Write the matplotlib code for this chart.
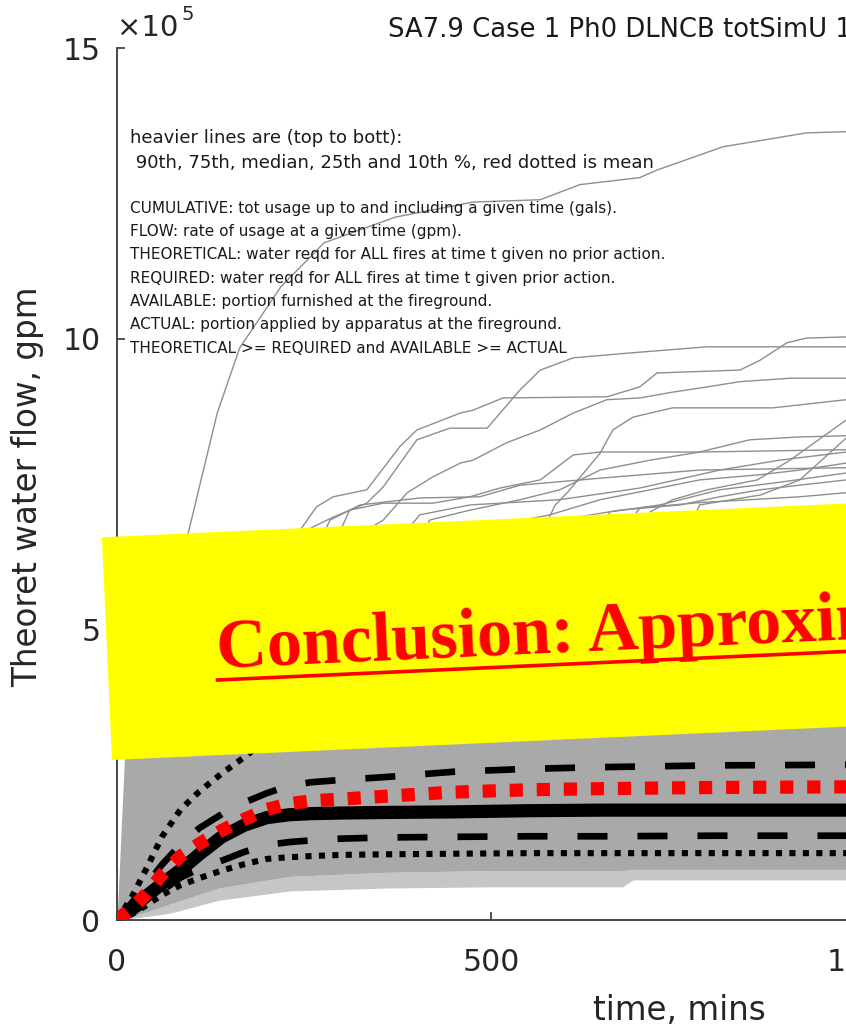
import matplotlib

matplotlib.use("Agg")
import matplotlib.pyplot as plt
from matplotlib.lines import Line2D
from matplotlib.patches import Rectangle

# flow values are in units of 1e5 gpm, time in minutes
pct_time = [0, 20, 40, 60, 85, 110, 140, 170, 200, 230, 260, 300, 360, 450, 550, 650, 800, 975]
p90 = [0, 0.40, 0.90, 1.43, 1.90, 2.21, 2.52, 2.80, 3.10, 3.35, 3.55, 3.72, 3.84, 3.90, 3.94, 3.97, 4.00, 4.00]
p75 = [0, 0.30, 0.62, 0.95, 1.30, 1.58, 1.82, 2.02, 2.18, 2.31, 2.37, 2.41, 2.46, 2.55, 2.60, 2.63, 2.66, 2.67]
mean = [0, 0.20, 0.46, 0.78, 1.10, 1.31, 1.54, 1.73, 1.90, 2.00, 2.05, 2.08, 2.13, 2.20, 2.24, 2.26, 2.28, 2.29]
median = [0, 0.20, 0.42, 0.62, 0.86, 1.13, 1.43, 1.63, 1.76, 1.81, 1.83, 1.84, 1.85, 1.86, 1.88, 1.89, 1.89, 1.89]
p25 = [0, 0.12, 0.30, 0.50, 0.73, 0.88, 1.02, 1.17, 1.29, 1.34, 1.37, 1.40, 1.42, 1.43, 1.44, 1.44, 1.45, 1.45]
p10 = [0, 0.10, 0.26, 0.43, 0.60, 0.72, 0.85, 0.96, 1.05, 1.08, 1.10, 1.12, 1.13, 1.14, 1.15, 1.15, 1.15, 1.15]

# envelope of the dense bundle of simulation runs
band_time = [0, 10, 20, 40, 72, 136, 231, 360, 500, 676, 690, 975]
band_low = [0, 0.0, 0.03, 0.06, 0.12, 0.34, 0.50, 0.55, 0.57, 0.57, 0.69, 0.69]
band_mid = [0, 0.02, 0.06, 0.14, 0.28, 0.55, 0.75, 0.82, 0.85, 0.85, 0.87, 0.87]
band_high = [0, 2.8, 4.5, 5.2, 5.3, 5.4, 5.5, 5.5, 5.5, 5.5, 5.5, 5.5]

# individual runs that stick out above the bundle
run_a_t = [0, 44, 94, 134, 164, 219, 277, 372, 476, 566, 619, 699, 722, 810, 922, 975]
run_a_v = [0, 2.58, 6.59, 8.72, 9.84, 10.89, 11.65, 12.09, 12.35, 12.39, 12.65, 12.77, 12.90, 13.30, 13.54, 13.56]
run_b_t = [164, 245, 267, 289, 334, 378, 401, 459, 476, 516, 655, 699, 722, 833, 860, 896, 922, 975]
run_b_v = [5.16, 6.71, 7.11, 7.28, 7.40, 8.14, 8.43, 8.72, 8.77, 8.98, 9.00, 9.17, 9.41, 9.46, 9.63, 9.93, 10.01, 10.03]
run_c_t = [178, 254, 289, 334, 356, 401, 445, 495, 539, 566, 610, 682, 789, 975]
run_c_v = [5.16, 6.71, 6.93, 7.17, 7.45, 8.26, 8.46, 8.46, 9.12, 9.46, 9.67, 9.75, 9.86, 9.86]
run_d_t = [271, 334, 356, 388, 422, 459, 476, 521, 566, 610, 655, 699, 743, 789, 833, 900, 975]
run_d_v = [5.16, 6.71, 6.88, 7.35, 7.62, 7.86, 7.91, 8.21, 8.43, 8.72, 8.95, 8.98, 9.08, 9.17, 9.26, 9.32, 9.32]
run_e_t = [245, 311, 356, 422, 472, 512, 566, 610, 646, 779, 975]
run_e_v = [5.16, 7.05, 7.17, 7.17, 7.28, 7.43, 7.57, 8.00, 8.05, 8.05, 8.09]
run_f_t = [352, 418, 472, 539, 592, 646, 713, 779, 846, 913, 975]
run_f_v = [5.16, 6.88, 7.05, 7.23, 7.40, 7.74, 7.91, 8.05, 8.26, 8.31, 8.33]
run_g_t = [405, 472, 512, 579, 646, 713, 779, 860, 913, 975]
run_g_v = [5.16, 6.54, 6.80, 6.97, 7.23, 7.40, 7.57, 7.66, 7.74, 7.86]
run_h_t = [485, 566, 592, 672, 753, 806, 860, 913, 975]
run_h_v = [5.16, 6.71, 6.88, 7.05, 7.14, 7.28, 7.40, 7.48, 7.57]
run_i_t = [592, 699, 779, 846, 913, 975]
run_i_v = [5.16, 7.09, 7.18, 7.23, 7.28, 7.35]
run_j_t = [512, 586, 602, 646, 663, 690, 743, 877, 975]
run_j_v = [5.16, 7.14, 7.35, 8.03, 8.43, 8.65, 8.81, 8.81, 8.95]
run_k_t = [646, 713, 743, 789, 856, 900, 975]
run_k_v = [5.16, 7.02, 7.23, 7.40, 7.57, 7.91, 8.60]
run_l_t = [713, 779, 860, 913, 975]
run_l_v = [5.16, 7.14, 7.31, 7.57, 8.29]
run_m_t = [285, 405, 472, 592, 699, 806, 886, 975]
run_m_v = [5.16, 6.97, 7.14, 7.23, 7.43, 7.74, 7.91, 8.05]
run_n_t = [218, 285, 325, 405, 485, 539, 646, 779, 975]
run_n_v = [5.16, 6.88, 7.14, 7.26, 7.28, 7.48, 7.60, 7.74, 7.78]
run_o_t = [592, 659, 726, 806, 886, 975]
run_o_v = [5.16, 7.02, 7.14, 7.40, 7.53, 7.69]

x_ticks = [0, 500, 1000]
y_ticks = [0, 5, 10, 15]

title_text = "SA7.9 Case 1 Ph0 DLNCB totSimU 1"
heavy_notes = [
    "heavier lines are (top to bott):",
    " 90th, 75th, median, 25th and 10th %, red dotted is mean",
]
notes = [
    "CUMULATIVE: tot usage up to and including a given time (gals).",
    "FLOW: rate of usage at a given time (gpm).",
    "THEORETICAL: water reqd for ALL fires at time t given no prior action.",
    "REQUIRED: water reqd for ALL fires at time t given prior action.",
    "AVAILABLE: portion furnished at the fireground.",
    "ACTUAL: portion applied by apparatus at the fireground.",
    "THEORETICAL >= REQUIRED and AVAILABLE >= ACTUAL",
]
banner_text = "Conclusion: Approxim"

W, H = 846, 1028


def fx(px):
    return px / W


def fy(py):
    return 1 - py / H


def draw_runs(ax):
    runs = [
        (run_a_t, run_a_v), (run_b_t, run_b_v), (run_c_t, run_c_v), (run_d_t, run_d_v),
        (run_e_t, run_e_v), (run_f_t, run_f_v), (run_g_t, run_g_v), (run_h_t, run_h_v),
        (run_i_t, run_i_v), (run_j_t, run_j_v), (run_k_t, run_k_v), (run_l_t, run_l_v),
        (run_m_t, run_m_v), (run_n_t, run_n_v), (run_o_t, run_o_v),
    ]
    for t, v in runs:
        ax.plot(t, v, color="#8e8e8e", lw=1.0, zorder=1)

    ax.fill_between(band_time, band_low, band_mid, color="#c6c6c6", lw=0, zorder=1.5)
    ax.fill_between(band_time, band_mid, band_high, color="#a9a9a9", lw=0, zorder=1.6)


def draw_percentiles(ax):
    dotted = (0, (1, 1.2))
    dashed = (0, (4.5, 4.5))
    ax.plot(pct_time, p90, color="black", lw=4.4, ls=dotted, zorder=3)
    ax.plot(pct_time, p75, color="black", lw=4.8, ls=dashed, zorder=3)
    ax.plot(pct_time, median, color="black", lw=9.5, solid_capstyle="butt", zorder=3)
    ax.plot(pct_time, p25, color="black", lw=4.8, ls=dashed, zorder=3)
    ax.plot(pct_time, p10, color="black", lw=4.4, ls=dotted, zorder=3)
    ax.plot(pct_time, mean, color="#ff0000", lw=9.5, ls=(0, (1, 1.05)), zorder=4)


def main():
    fig = plt.figure(figsize=(W / 100, H / 100), dpi=100)
    fig.patch.set_facecolor("white")

    ax = fig.add_axes([fx(117), fy(920), (1164 - 117) / W, 872 / H])
    draw_runs(ax)
    draw_percentiles(ax)

    ax.set_xlim(0, 1400)
    ax.set_ylim(0, 15)
    ax.set_xticks(x_ticks)
    ax.set_yticks(y_ticks)
    ax.spines["top"].set_visible(False)
    ax.spines["right"].set_visible(False)
    for s in ("left", "bottom"):
        ax.spines[s].set_color("#3a3a3a")
        ax.spines[s].set_linewidth(1.3)
    ax.tick_params(direction="in", length=6, width=1.1, colors="#262626", labelsize=21.5)
    ax.tick_params(axis="x", pad=20)
    ax.tick_params(axis="y", pad=12)

    ax.set_ylabel("Theoret water flow, gpm", fontsize=23.5, color="#262626", va="center")
    ax.yaxis.set_label_coords((28 - 117) / 1047, 0.497)
    ax.set_xlabel("time, mins", fontsize=23.5, color="#262626", va="center")
    ax.xaxis.set_label_coords((679 - 117) / 1047, (920 - 1010) / 872)

    # exponent label and title
    fig.text(fx(117), fy(36), "\u00d710", fontsize=21, color="#262626", ha="left", va="baseline")
    fig.text(fx(181), fy(20), "5", fontsize=14, color="#262626", ha="left", va="baseline")
    fig.text(fx(388), fy(37), title_text, fontsize=18.6, color="#1a1a1a", ha="left", va="baseline")

    for i, line in enumerate(heavy_notes):
        fig.text(fx(130), fy(138 + 25 * i), line, fontsize=13, color="#1a1a1a", va="center")
    for i, line in enumerate(notes):
        fig.text(fx(130), fy(208 + 23.4 * i), line, fontsize=11, color="#1a1a1a", va="center")

    # yellow banner pasted over the chart
    banner = Rectangle((1.12, 2.68), 12, 2.23, angle=2.6, transform=fig.dpi_scale_trans,
                       facecolor="#ffff00", edgecolor="none", zorder=10)
    fig.add_artist(banner)
    fig.text(2.17, 3.60, banner_text, transform=fig.dpi_scale_trans, rotation=2.6,
             rotation_mode="anchor", ha="left", va="baseline", fontsize=50.5,
             fontweight="bold", family="Liberation Serif", color="#ff0000", zorder=11)
    fig.add_artist(Line2D([2.175, 10.165], [3.48, 3.843], transform=fig.dpi_scale_trans,
                          color="#ff0000", lw=2.6, zorder=11))

    fig.savefig("out.png", dpi=100)


if __name__ == "__main__":
    main()
